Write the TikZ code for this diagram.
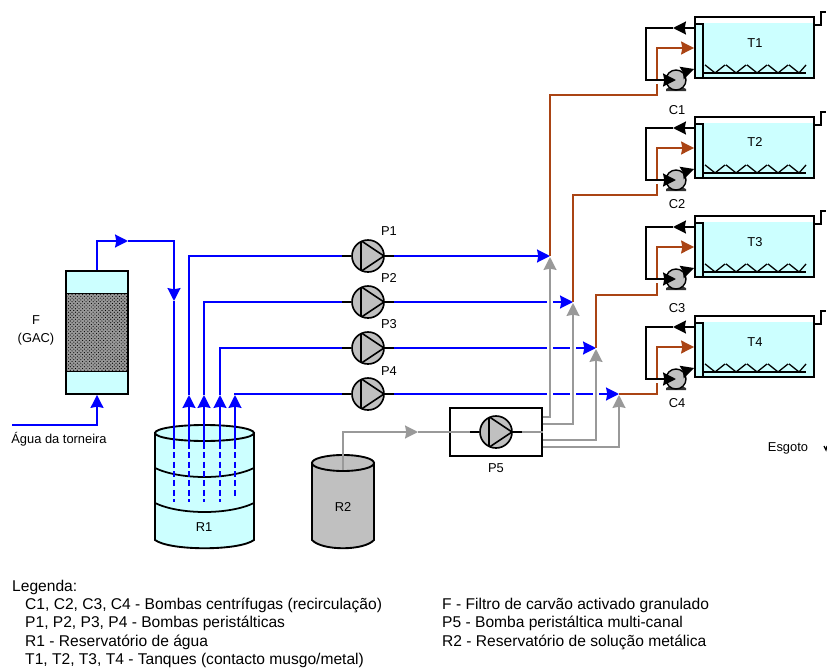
\documentclass[tikz,border=0pt]{standalone}
\usepackage{fontspec}
\setmainfont{Liberation Sans}
\usepackage{xcolor}
\usetikzlibrary{arrows.meta, shapes.geometric, patterns}
\definecolor{waterfill}{RGB}{204,255,255}
\definecolor{pumpgray}{RGB}{192,192,192}
\definecolor{feedorange}{RGB}{170,68,20}
\definecolor{metalgray}{RGB}{153,153,153}

\begin{document}
\begin{tikzpicture}[
  x=0.03cm, y=-0.03cm,
  every node/.style={font=\fontsize{11}{13}\selectfont, inner sep=0pt},
  legend/.style={anchor=west, font=\fontsize{13.3}{15}\selectfont},
  pump/.style={
    circle, draw=black, line width=1.4pt, fill=pumpgray, minimum size=0.96cm,
    path picture={\draw[line width=1.4pt]
      ([shift={(-0.21cm,0.46cm)}]path picture bounding box.center) --
      ([shift={(0.48cm,0cm)}]path picture bounding box.center) --
      ([shift={(-0.21cm,-0.46cm)}]path picture bounding box.center) -- cycle;}
  },
  recpump/.style={circle, draw=black, line width=1.2pt, fill=pumpgray, minimum size=0.6cm},
  tank/.style={
    rectangle, draw=black, line width=1.6pt, fill=waterfill,
    minimum width=3.57cm, minimum height=1.83cm,
    path picture={\fill[white] (path picture bounding box.north west) rectangle
      ([yshift=-0.18cm]path picture bounding box.north east);}
  },
  weir/.style={
    rectangle, draw=black, line width=1.4pt, fill=waterfill, anchor=south west,
    minimum width=0.24cm, minimum height=1.62cm
  },
  drumtop/.style={ellipse, draw=black, line width=1.6pt, minimum height=0.48cm},
  drumbody/.style={draw=black, line width=1.6pt},
  water/.style={line width=1.7pt, color=blue},
  seep/.style={line width=1.7pt, color=blue, dash pattern=on 5pt off 3pt},
  feed/.style={line width=1.7pt, color=feedorange},
  metal/.style={line width=1.7pt, color=metalgray},
  recirc/.style={line width=1.7pt, color=black},
  stub/.style={line width=1.5pt, color=black},
  tipped/.style={-{Stealth[length=11pt,width=11pt,inset=1pt]}},
  tank trim/.pic={
    \draw[line width=1.1pt] (8,-6) -- (112,-6);
    \draw[line width=1.1pt] (11,-14) -- (21,-6) -- (31,-14)
      (32,-14) -- (42,-6) -- (52,-14)
      (53,-14) -- (63,-6) -- (73,-14)
      (74,-14) -- (84,-6) -- (94,-14)
      (95,-14) -- (105,-6) -- (112,-14);
    \draw[line width=1.2pt] (119,-54) -- (127,-54) -- (127,-67) -- (132,-67);
  },
  pump foot/.pic={
    \fill[black!80] (-6,7) -- (6,7) -- (10,9) -- (10,11) -- (-10,11) -- (-10,9) -- cycle;
  },
]
\useasboundingbox (0,0) rectangle (827,669);

% Filter
\node[rectangle, draw=black, line width=1.6pt, fill=waterfill,
  minimum width=1.86cm, minimum height=3.69cm] (f) at (97,332.5) {};
\node[rectangle, draw=black, line width=1.2pt, preaction={fill=black!40},
  pattern=crosshatch dots, pattern color=black,
  minimum width=1.86cm, minimum height=2.34cm] (gac) at (f.center) {};
\node[align=center] (flab) at (36,330.5) {F\\[2pt](GAC)};
\node (tap) at (59,439) {Água da torneira};

% Reservoirs
\draw[drumbody, fill=waterfill] (155,433) -- (155,540) .. controls (170,551) and (239,551) .. (254,540) -- (254,433) -- cycle;
\node[drumtop, fill=waterfill, minimum width=2.97cm] (r1) at (204.5,433) {};
\draw[line width=1.5pt] (155,468) .. controls (180,480) and (229,480) .. (254,468);
\draw[line width=1.5pt] (155,503) .. controls (180,515) and (229,515) .. (254,503);
\node (r1lab) at (204,527) {R1};
\draw[drumbody, fill=pumpgray] (312,463) -- (312,540) .. controls (322,551) and (364,551) .. (374,540) -- (374,463) -- cycle;
\node[drumtop, fill=pumpgray, minimum width=1.86cm] (r2) at (343,463) {};
\node (r2lab) at (343,507) {R2};

% Peristaltic pumps
\node[pump] (p1) at (368,256) {};
\node[pump] (p2) at (368,302) {};
\node[pump] (p3) at (368,348) {};
\node[pump] (p4) at (368,394) {};
\node (p1lab) at (389,231) {P1};
\node (p2lab) at (389,278) {P2};
\node (p3lab) at (389,324) {P3};
\node (p4lab) at (389,371) {P4};
\draw[stub] ([xshift=-0.27cm]p1.west) -- (p1.west) (p1.east) -- ([xshift=0.27cm]p1.east);
\draw[stub] ([xshift=-0.27cm]p2.west) -- (p2.west) (p2.east) -- ([xshift=0.27cm]p2.east);
\draw[stub] ([xshift=-0.27cm]p3.west) -- (p3.west) (p3.east) -- ([xshift=0.27cm]p3.east);
\draw[stub] ([xshift=-0.27cm]p4.west) -- (p4.west) (p4.east) -- ([xshift=0.27cm]p4.east);

% Multi-channel pump
\node[rectangle, draw=black, line width=1.5pt, minimum width=2.76cm, minimum height=1.44cm] (b5) at (496,432) {};
\node[pump] (p5) at (b5.center) {};
\node (p5lab) at (496,468) {P5};
\draw[stub] ([xshift=-0.27cm]p5.west) -- (p5.west) (p5.east) -- ([xshift=0.27cm]p5.east);

% Mixing points
\coordinate (j1) at (550,256);
\coordinate (j2) at (573,302);
\coordinate (j3) at (596,348);
\coordinate (j4) at (619,394);

% Tap water
\coordinate (tapin) at (12,425);
\coordinate (fout) at (128,241);
\coordinate (down) at (174,301);
\draw[water, tipped] (tapin) -| (f.south);
\draw[water, tipped] (f.north) |- (fout);
\draw[water, tipped] (fout) -| (down);
\draw[water] (down) -- (174,443);
\draw[seep] (174,443) -- (174,502);

% Reservoir outlets
\coordinate (up1) at (189,395);
\coordinate (up2) at (204,395);
\coordinate (up3) at (220,395);
\coordinate (up4) at (235,395);
\draw[water, tipped] (189,443) -- (up1);
\draw[water, tipped] (204,443) -- (up2);
\draw[water, tipped] (220,443) -- (up3);
\draw[water, tipped] (235,443) -- (up4);
\draw[seep] (189,443) -- (189,502);
\draw[seep] (204,443) -- (204,502);
\draw[seep] (220,443) -- (220,502);
\draw[seep] (235,443) -- (235,498);
\draw[water] (up1) |- ([xshift=-0.27cm]p1.west);
\draw[water] (up2) |- ([xshift=-0.27cm]p2.west);
\draw[water] (up3) |- ([xshift=-0.27cm]p3.west);
\draw[water] (up4) |- ([xshift=-0.27cm]p4.west);

% Pump outlets, broken where they pass the metal lines
\draw[water, tipped] ([xshift=0.27cm]p1.east) -- (j1);
\draw[water] ([xshift=0.27cm]p2.east) -- (547,302);
\draw[water, tipped] (553,302) -- (j2);
\draw[water] ([xshift=0.27cm]p3.east) -- (547,348);
\draw[water] (553,348) -- (570,348);
\draw[water, tipped] (576,348) -- (j3);
\draw[water] ([xshift=0.27cm]p4.east) -- (547,394);
\draw[water] (553,394) -- (570,394);
\draw[water] (576,394) -- (593,394);
\draw[water, tipped] (599,394) -- (j4);

% Metal solution
\coordinate (gin) at (418,432);
\draw[metal, tipped] ([yshift=-0.21cm]r2.center) |- (gin);
\draw[metal] (gin) -- ([xshift=-0.27cm]p5.west);
\draw[metal] ([xshift=0.27cm]p5.east) -- (b5.east);
\draw[metal, tipped] ([yshift=0.45cm]b5.east) -| ([yshift=-0.03cm]j1);
\draw[metal, tipped] ([yshift=0.24cm]b5.east) -| ([yshift=-0.03cm]j2);
\draw[metal, tipped] ([yshift=-0.24cm]b5.east) -| ([yshift=-0.03cm]j3);
\draw[metal, tipped] ([yshift=-0.45cm]b5.east) -| ([yshift=-0.03cm]j4);

% Tank 1
\node[tank] (t1) at (754.5,47.5) {};
\node[weir] (w1) at (t1.south west) {};
\pic at (t1.south west) {tank trim};
\node (t1lab) at (755,43) {T1};
\pic at (676,80) {pump foot};
\node[recpump] (c1) at (676,80) {};
\node (c1lab) at (677,110) {C1};
\coordinate (ret1) at (673,28);
\draw[feed] (j1) |- (657,95) -- (657,84);
\draw[feed, tipped] (657,80) -- (657,48) -- ([yshift=-0.015cm]t1.west);
\draw[recirc, tipped] ([yshift=0.585cm]t1.west) -- (ret1);
\draw[recirc, tipped] (ret1) -- (646,28) -- (646,80) -- (c1.center);
\draw[recirc, tipped] (c1.north east) -- ([yshift=-0.645cm]t1.west);

% Tank 2
\node[tank] (t2) at (754.5,147.5) {};
\node[weir] (w2) at (t2.south west) {};
\pic at (t2.south west) {tank trim};
\node (t2lab) at (755,142) {T2};
\pic at (676,180) {pump foot};
\node[recpump] (c2) at (676,180) {};
\node (c2lab) at (677,204) {C2};
\coordinate (ret2) at (673,128);
\draw[feed] (j2) |- (657,195) -- (657,184);
\draw[feed, tipped] (657,180) -- (657,148) -- ([yshift=-0.015cm]t2.west);
\draw[recirc, tipped] ([yshift=0.585cm]t2.west) -- (ret2);
\draw[recirc, tipped] (ret2) -- (646,128) -- (646,180) -- (c2.center);
\draw[recirc, tipped] (c2.north east) -- ([yshift=-0.645cm]t2.west);

% Tank 3
\node[tank] (t3) at (754.5,246.5) {};
\node[weir] (w3) at (t3.south west) {};
\pic at (t3.south west) {tank trim};
\node (t3lab) at (755,242) {T3};
\pic at (676,279) {pump foot};
\node[recpump] (c3) at (676,279) {};
\node (c3lab) at (677,308) {C3};
\coordinate (ret3) at (673,227);
\draw[feed] (j3) |- (657,295) -- (657,283);
\draw[feed, tipped] (657,279) -- (657,247) -- ([yshift=-0.015cm]t3.west);
\draw[recirc, tipped] ([yshift=0.585cm]t3.west) -- (ret3);
\draw[recirc, tipped] (ret3) -- (646,227) -- (646,279) -- (c3.center);
\draw[recirc, tipped] (c3.north east) -- ([yshift=-0.645cm]t3.west);

% Tank 4
\node[tank] (t4) at (754.5,346.5) {};
\node[weir] (w4) at (t4.south west) {};
\pic at (t4.south west) {tank trim};
\node (t4lab) at (755,342) {T4};
\pic at (676,379) {pump foot};
\node[recpump] (c4) at (676,379) {};
\node (c4lab) at (677,403) {C4};
\coordinate (ret4) at (673,327);
\draw[feed] (j4) -- (657,394) -- (657,383);
\draw[feed, tipped] (657,379) -- (657,347) -- ([yshift=-0.015cm]t4.west);
\draw[recirc, tipped] ([yshift=0.585cm]t4.west) -- (ret4);
\draw[recirc, tipped] (ret4) -- (646,327) -- (646,379) -- (c4.center);
\draw[recirc, tipped] (c4.north east) -- ([yshift=-0.645cm]t4.west);

% Drain
\node (drain) at (788,448) {Esgoto};
\draw[line width=1pt] (824,446) -- (826,450) -- (827,446);

% Legend
\node[legend] (leg) at (12,587) {Legenda:};
\node[legend] (leg1) at (25,605) {C1, C2, C3, C4 - Bombas centrífugas (recirculação)};
\node[legend] (leg2) at (25,623) {P1, P2, P3, P4 - Bombas peristálticas};
\node[legend] (leg3) at (25,642) {R1 - Reservatório de água};
\node[legend] (leg4) at (25,660) {T1, T2, T3, T4 - Tanques (contacto musgo/metal)};
\node[legend] (leg5) at (442,605) {F - Filtro de carvão activado granulado};
\node[legend] (leg6) at (442,623) {P5 - Bomba peristáltica multi-canal};
\node[legend] (leg7) at (442,642) {R2 - Reservatório de solução metálica};

\end{tikzpicture}
\end{document}
